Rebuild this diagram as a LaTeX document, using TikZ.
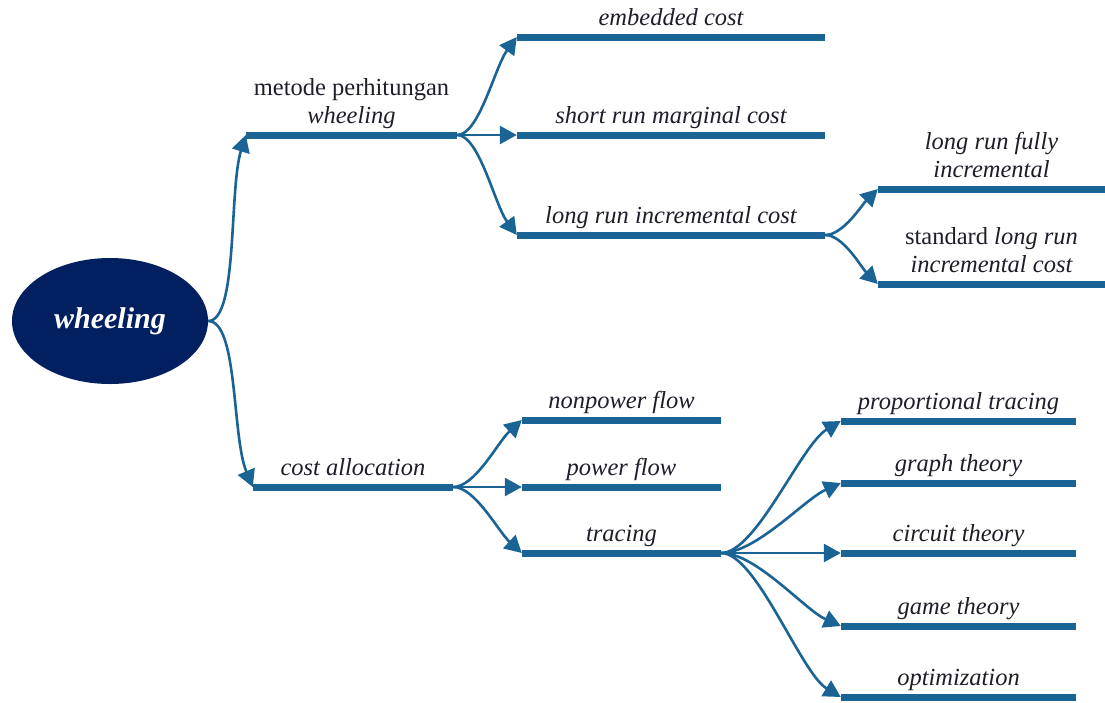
\documentclass[tikz,border=0pt]{standalone}
\usepackage{fontspec}
\setmainfont{Liberation Serif}
\usetikzlibrary{arrows.meta,shapes.geometric}

\definecolor{barblue}{HTML}{1A6395}
\definecolor{rootblue}{HTML}{022060}
\definecolor{inkdark}{HTML}{1E1E2A}

\begin{document}
\begin{tikzpicture}[x=1pt,y=1pt,>={Triangle[length=17pt,width=18pt]}]
      \tikzstyle{bar}=[rectangle,fill=barblue,minimum height=7pt,inner sep=0pt];
      \tikzstyle{link}=[->,draw=barblue,line width=2.6pt];
      \tikzstyle{tag}=[inner sep=0pt,text depth=7.5pt,align=center,text=inkdark,font=\fontsize{24.5}{28.5}\selectfont\itshape];

      \useasboundingbox (0,0) rectangle (1105,-702);

      \node[ellipse,fill=rootblue,minimum width=196pt,minimum height=126pt,text=white,font=\fontsize{30}{34}\selectfont\bfseries\itshape](wheeling) at (110,-321) {wheeling};

      \node[bar,minimum width=211pt,label={[tag]above:{\upshape metode perhitungan\\wheeling}}](metode) at (351.5,-135) {};
      \node[bar,minimum width=308pt,label={[tag]above:embedded cost}](embedded) at (671,-37) {};
      \node[bar,minimum width=308pt,label={[tag]above:short run marginal cost}](shortrun) at (671,-135) {};
      \node[bar,minimum width=308pt,label={[tag]above:long run incremental cost}](longrun) at (671,-235) {};
      \node[bar,minimum width=227pt,label={[tag]above:{long run fully\\incremental}}](fully) at (991.5,-189) {};
      \node[bar,minimum width=227pt,label={[tag]above:{{\upshape standard} long run\\incremental cost}}](standard) at (991.5,-284) {};

      \node[bar,minimum width=200pt,label={[tag]above:cost allocation}](costalloc) at (353,-487) {};
      \node[bar,minimum width=199pt,label={[tag]above:nonpower flow}](nonpower) at (621.5,-420) {};
      \node[bar,minimum width=199pt,label={[tag]above:power flow}](powerflow) at (621.5,-487) {};
      \node[bar,minimum width=199pt,label={[tag]above:tracing}](tracing) at (621.5,-553) {};
      \node[bar,minimum width=235pt,label={[tag]above:proportional tracing}](proptrace) at (958.5,-421) {};
      \node[bar,minimum width=235pt,label={[tag]above:graph theory}](graph) at (958.5,-483) {};
      \node[bar,minimum width=235pt,label={[tag]above:circuit theory}](circuit) at (958.5,-553) {};
      \node[bar,minimum width=235pt,label={[tag]above:game theory}](game) at (958.5,-626) {};
      \node[bar,minimum width=235pt,label={[tag]above:optimization}](optim) at (958.5,-697) {};

      \draw[link] (wheeling.east) .. controls +(30,0) and +(-17,-55) .. (metode.west);
      \draw[link] (wheeling.east) .. controls +(30,0) and +(-21,50) .. (costalloc.west);

      \draw[link] (metode.east) .. controls +(22,0) and +(-22,-30) .. (embedded.west);
      \draw[link] (metode.east) -- (shortrun.west);
      \draw[link] (metode.east) .. controls +(22,0) and +(-22,30) .. (longrun.west);
      \draw[link] (longrun.east) .. controls +(18,0) and +(-16,-16) .. (fully.west);
      \draw[link] (longrun.east) .. controls +(18,0) and +(-16,16) .. (standard.west);

      \draw[link] (costalloc.east) .. controls +(22,0) and +(-24,-22) .. (nonpower.west);
      \draw[link] (costalloc.east) -- (powerflow.west);
      \draw[link] (costalloc.east) .. controls +(22,0) and +(-24,22) .. (tracing.west);
      \draw[link] (tracing.east) .. controls +(35,0) and +(-40,-24) .. (proptrace.west);
      \draw[link] (tracing.east) .. controls +(35,0) and +(-36,-16) .. (graph.west);
      \draw[link] (tracing.east) -- (circuit.west);
      \draw[link] (tracing.east) .. controls +(35,0) and +(-36,16) .. (game.west);
      \draw[link] (tracing.east) .. controls +(35,0) and +(-40,24) .. (optim.west);

    \end{tikzpicture}
\end{document}
